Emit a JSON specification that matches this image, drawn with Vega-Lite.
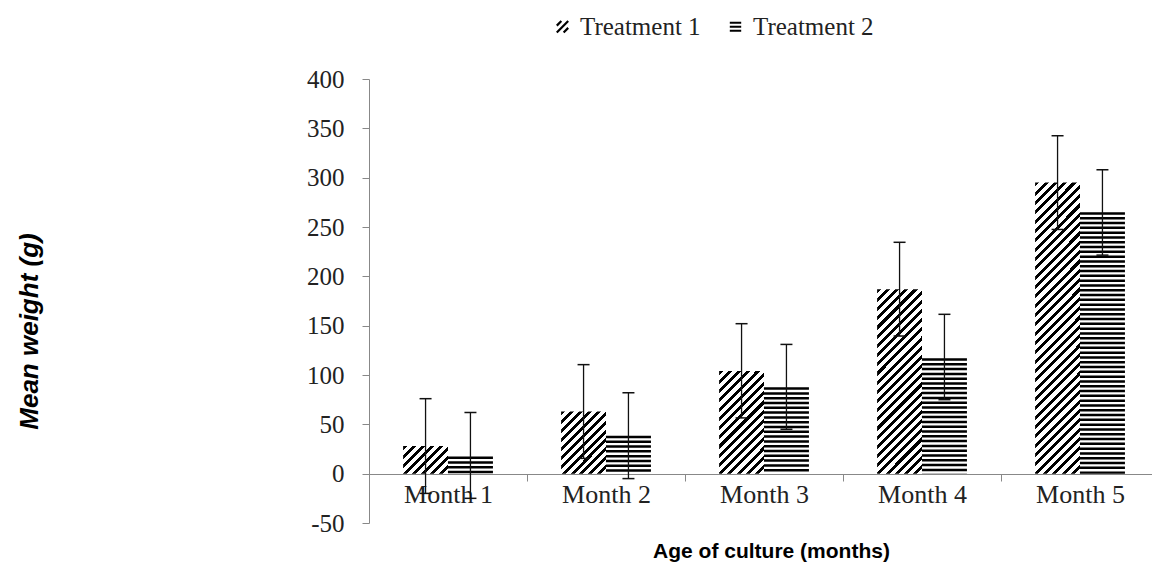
{
  "$schema": "https://vega.github.io/schema/vega-lite/v6.json",
  "autosize": "none",
  "width": 783,
  "height": 444,
  "padding": {"left": 369, "top": 79, "right": 0, "bottom": 43},
  "config": {"view": {"stroke": null}, "background": "white"},
  "data": {"values": [
    {"month": "Month 1", "treatment": "Treatment 1", "mean": 28, "lower": -20, "upper": 76},
    {"month": "Month 1", "treatment": "Treatment 2", "mean": 17.5, "lower": -25, "upper": 62},
    {"month": "Month 2", "treatment": "Treatment 1", "mean": 63, "lower": 15.5, "upper": 110.5},
    {"month": "Month 2", "treatment": "Treatment 2", "mean": 38.5, "lower": -5, "upper": 82},
    {"month": "Month 3", "treatment": "Treatment 1", "mean": 104, "lower": 56.5, "upper": 152},
    {"month": "Month 3", "treatment": "Treatment 2", "mean": 87.5, "lower": 45, "upper": 131},
    {"month": "Month 4", "treatment": "Treatment 1", "mean": 187, "lower": 139.5, "upper": 234.5},
    {"month": "Month 4", "treatment": "Treatment 2", "mean": 117, "lower": 75, "upper": 161.5},
    {"month": "Month 5", "treatment": "Treatment 1", "mean": 295, "lower": 247.5, "upper": 342.5},
    {"month": "Month 5", "treatment": "Treatment 2", "mean": 265, "lower": 221.5, "upper": 308}
  ]},
  "encoding": {
    "x": {"field": "month", "type": "nominal",
      "scale": {"type": "band", "paddingInner": 0, "paddingOuter": 0, "range": [0, 790]},
      "axis": {"orient": "bottom", "offset": -49, "tickBand": "extent", "tickSize": 7, "labelPadding": 0, "labelAngle": 0,
        "domainColor": "#888888", "tickColor": "#888888", "labelFont": "Liberation Serif", "labelFontSize": 26, "labelColor": "#222222",
        "title": "Age of culture (months)", "titleFont": "Liberation Sans", "titleFontSize": 21, "titleFontWeight": "bold", "titleColor": "#000000",
        "titleX": 402, "titleY": 83, "titleBaseline": "alphabetic", "titleAlign": "center"}},
    "xOffset": {"field": "treatment", "type": "nominal",
      "scale": {"domain": ["Treatment 1", "Treatment 2"], "paddingInner": 0, "paddingOuter": 0.76}}
  },
  "layer": [
    {
      "transform": [{"filter": "datum.month == 'Month 1' && datum.treatment == 'Treatment 1'"}],
      "mark": {"type": "bar", "fill": {"gradient": "linear", "x1": 0, "y1": 0, "x2": 1.172, "y2": 0.720, "stops": [
        {"offset": 0, "color": "#000"}, {"offset": 0.05625, "color": "#000"}, {"offset": 0.05625, "color": "#fff"}, {"offset": 0.125, "color": "#fff"},
        {"offset": 0.125, "color": "#000"}, {"offset": 0.18125, "color": "#000"}, {"offset": 0.18125, "color": "#fff"}, {"offset": 0.25, "color": "#fff"},
        {"offset": 0.25, "color": "#000"}, {"offset": 0.30625, "color": "#000"}, {"offset": 0.30625, "color": "#fff"}, {"offset": 0.375, "color": "#fff"},
        {"offset": 0.375, "color": "#000"}, {"offset": 0.43125, "color": "#000"}, {"offset": 0.43125, "color": "#fff"}, {"offset": 0.5, "color": "#fff"},
        {"offset": 0.5, "color": "#000"}, {"offset": 0.55625, "color": "#000"}, {"offset": 0.55625, "color": "#fff"}, {"offset": 0.625, "color": "#fff"},
        {"offset": 0.625, "color": "#000"}, {"offset": 0.68125, "color": "#000"}, {"offset": 0.68125, "color": "#fff"}, {"offset": 0.75, "color": "#fff"},
        {"offset": 0.75, "color": "#000"}, {"offset": 0.80625, "color": "#000"}, {"offset": 0.80625, "color": "#fff"}, {"offset": 0.875, "color": "#fff"},
        {"offset": 0.875, "color": "#000"}, {"offset": 0.93125, "color": "#000"}, {"offset": 0.93125, "color": "#fff"}, {"offset": 1, "color": "#fff"}
      ]}},
      "encoding": {"y": {"field": "mean", "type": "quantitative",
        "scale": {"domain": [-50, 400], "nice": false, "zero": false},
        "axis": {"orient": "left", "values": [-50, 0, 50, 100, 150, 200, 250, 300, 350, 400], "grid": false, "tickSize": 7, "labelPadding": 18,
          "labelExpr": "replace(datum.label, '\u2212', '-')",
          "domainColor": "#888888", "tickColor": "#888888", "labelFont": "Liberation Serif", "labelFontSize": 25, "labelColor": "#222222",
          "title": "Mean weight (g)", "titleFont": "Liberation Sans", "titleFontSize": 26, "titleFontWeight": "bold", "titleFontStyle": "italic", "titleColor": "#000000",
          "titleAngle": -90, "titleX": -340, "titleY": 252, "titleBaseline": "middle", "titleAlign": "center"}}}
    },
    {
      "transform": [{"filter": "datum.month == 'Month 2' && datum.treatment == 'Treatment 1'"}],
      "mark": {"type": "bar", "fill": {"gradient": "linear", "x1": 0, "y1": 0, "x2": 0.8185, "y2": 1.1313, "stops": [
        {"offset": 0, "color": "#000"}, {"offset": 0.0375, "color": "#000"}, {"offset": 0.0375, "color": "#fff"}, {"offset": 0.08333, "color": "#fff"},
        {"offset": 0.08333, "color": "#000"}, {"offset": 0.12083, "color": "#000"}, {"offset": 0.12083, "color": "#fff"}, {"offset": 0.16667, "color": "#fff"},
        {"offset": 0.16667, "color": "#000"}, {"offset": 0.20417, "color": "#000"}, {"offset": 0.20417, "color": "#fff"}, {"offset": 0.25, "color": "#fff"},
        {"offset": 0.25, "color": "#000"}, {"offset": 0.2875, "color": "#000"}, {"offset": 0.2875, "color": "#fff"}, {"offset": 0.33333, "color": "#fff"},
        {"offset": 0.33333, "color": "#000"}, {"offset": 0.37083, "color": "#000"}, {"offset": 0.37083, "color": "#fff"}, {"offset": 0.41667, "color": "#fff"},
        {"offset": 0.41667, "color": "#000"}, {"offset": 0.45417, "color": "#000"}, {"offset": 0.45417, "color": "#fff"}, {"offset": 0.5, "color": "#fff"},
        {"offset": 0.5, "color": "#000"}, {"offset": 0.5375, "color": "#000"}, {"offset": 0.5375, "color": "#fff"}, {"offset": 0.58333, "color": "#fff"},
        {"offset": 0.58333, "color": "#000"}, {"offset": 0.62083, "color": "#000"}, {"offset": 0.62083, "color": "#fff"}, {"offset": 0.66667, "color": "#fff"},
        {"offset": 0.66667, "color": "#000"}, {"offset": 0.70417, "color": "#000"}, {"offset": 0.70417, "color": "#fff"}, {"offset": 0.75, "color": "#fff"},
        {"offset": 0.75, "color": "#000"}, {"offset": 0.7875, "color": "#000"}, {"offset": 0.7875, "color": "#fff"}, {"offset": 0.83333, "color": "#fff"},
        {"offset": 0.83333, "color": "#000"}, {"offset": 0.87083, "color": "#000"}, {"offset": 0.87083, "color": "#fff"}, {"offset": 0.91667, "color": "#fff"},
        {"offset": 0.91667, "color": "#000"}, {"offset": 0.95417, "color": "#000"}, {"offset": 0.95417, "color": "#fff"}, {"offset": 1, "color": "#fff"}
      ]}},
      "encoding": {"y": {"field": "mean", "type": "quantitative", "title": "Mean weight (g)"}}
    },
    {
      "transform": [{"filter": "datum.month == 'Month 3' && datum.treatment == 'Treatment 1'"}],
      "mark": {"type": "bar", "fill": {"gradient": "linear", "x1": 0, "y1": 0, "x2": 0.5287, "y2": 1.2065, "stops": [
        {"offset": 0, "color": "#000"}, {"offset": 0.028125, "color": "#000"}, {"offset": 0.028125, "color": "#fff"}, {"offset": 0.0625, "color": "#fff"},
        {"offset": 0.0625, "color": "#000"}, {"offset": 0.090625, "color": "#000"}, {"offset": 0.090625, "color": "#fff"}, {"offset": 0.125, "color": "#fff"},
        {"offset": 0.125, "color": "#000"}, {"offset": 0.153125, "color": "#000"}, {"offset": 0.153125, "color": "#fff"}, {"offset": 0.1875, "color": "#fff"},
        {"offset": 0.1875, "color": "#000"}, {"offset": 0.215625, "color": "#000"}, {"offset": 0.215625, "color": "#fff"}, {"offset": 0.25, "color": "#fff"},
        {"offset": 0.25, "color": "#000"}, {"offset": 0.278125, "color": "#000"}, {"offset": 0.278125, "color": "#fff"}, {"offset": 0.3125, "color": "#fff"},
        {"offset": 0.3125, "color": "#000"}, {"offset": 0.340625, "color": "#000"}, {"offset": 0.340625, "color": "#fff"}, {"offset": 0.375, "color": "#fff"},
        {"offset": 0.375, "color": "#000"}, {"offset": 0.403125, "color": "#000"}, {"offset": 0.403125, "color": "#fff"}, {"offset": 0.4375, "color": "#fff"},
        {"offset": 0.4375, "color": "#000"}, {"offset": 0.465625, "color": "#000"}, {"offset": 0.465625, "color": "#fff"}, {"offset": 0.5, "color": "#fff"},
        {"offset": 0.5, "color": "#000"}, {"offset": 0.528125, "color": "#000"}, {"offset": 0.528125, "color": "#fff"}, {"offset": 0.5625, "color": "#fff"},
        {"offset": 0.5625, "color": "#000"}, {"offset": 0.590625, "color": "#000"}, {"offset": 0.590625, "color": "#fff"}, {"offset": 0.625, "color": "#fff"},
        {"offset": 0.625, "color": "#000"}, {"offset": 0.653125, "color": "#000"}, {"offset": 0.653125, "color": "#fff"}, {"offset": 0.6875, "color": "#fff"},
        {"offset": 0.6875, "color": "#000"}, {"offset": 0.715625, "color": "#000"}, {"offset": 0.715625, "color": "#fff"}, {"offset": 0.75, "color": "#fff"},
        {"offset": 0.75, "color": "#000"}, {"offset": 0.778125, "color": "#000"}, {"offset": 0.778125, "color": "#fff"}, {"offset": 0.8125, "color": "#fff"},
        {"offset": 0.8125, "color": "#000"}, {"offset": 0.840625, "color": "#000"}, {"offset": 0.840625, "color": "#fff"}, {"offset": 0.875, "color": "#fff"},
        {"offset": 0.875, "color": "#000"}, {"offset": 0.903125, "color": "#000"}, {"offset": 0.903125, "color": "#fff"}, {"offset": 0.9375, "color": "#fff"},
        {"offset": 0.9375, "color": "#000"}, {"offset": 0.965625, "color": "#000"}, {"offset": 0.965625, "color": "#fff"}, {"offset": 1, "color": "#fff"}
      ]}},
      "encoding": {"y": {"field": "mean", "type": "quantitative", "title": "Mean weight (g)"}}
    },
    {
      "transform": [{"filter": "datum.month == 'Month 4' && datum.treatment == 'Treatment 1'"}],
      "mark": {"type": "bar", "fill": {"gradient": "linear", "x1": 0, "y1": 0, "x2": 0.2860, "y2": 1.1740, "stops": [
        {"offset": 0, "color": "#000"}, {"offset": 0.018, "color": "#000"}, {"offset": 0.018, "color": "#fff"}, {"offset": 0.04, "color": "#fff"},
        {"offset": 0.04, "color": "#000"}, {"offset": 0.058, "color": "#000"}, {"offset": 0.058, "color": "#fff"}, {"offset": 0.08, "color": "#fff"},
        {"offset": 0.08, "color": "#000"}, {"offset": 0.098, "color": "#000"}, {"offset": 0.098, "color": "#fff"}, {"offset": 0.12, "color": "#fff"},
        {"offset": 0.12, "color": "#000"}, {"offset": 0.138, "color": "#000"}, {"offset": 0.138, "color": "#fff"}, {"offset": 0.16, "color": "#fff"},
        {"offset": 0.16, "color": "#000"}, {"offset": 0.178, "color": "#000"}, {"offset": 0.178, "color": "#fff"}, {"offset": 0.2, "color": "#fff"},
        {"offset": 0.2, "color": "#000"}, {"offset": 0.218, "color": "#000"}, {"offset": 0.218, "color": "#fff"}, {"offset": 0.24, "color": "#fff"},
        {"offset": 0.24, "color": "#000"}, {"offset": 0.258, "color": "#000"}, {"offset": 0.258, "color": "#fff"}, {"offset": 0.28, "color": "#fff"},
        {"offset": 0.28, "color": "#000"}, {"offset": 0.298, "color": "#000"}, {"offset": 0.298, "color": "#fff"}, {"offset": 0.32, "color": "#fff"},
        {"offset": 0.32, "color": "#000"}, {"offset": 0.338, "color": "#000"}, {"offset": 0.338, "color": "#fff"}, {"offset": 0.36, "color": "#fff"},
        {"offset": 0.36, "color": "#000"}, {"offset": 0.378, "color": "#000"}, {"offset": 0.378, "color": "#fff"}, {"offset": 0.4, "color": "#fff"},
        {"offset": 0.4, "color": "#000"}, {"offset": 0.418, "color": "#000"}, {"offset": 0.418, "color": "#fff"}, {"offset": 0.44, "color": "#fff"},
        {"offset": 0.44, "color": "#000"}, {"offset": 0.458, "color": "#000"}, {"offset": 0.458, "color": "#fff"}, {"offset": 0.48, "color": "#fff"},
        {"offset": 0.48, "color": "#000"}, {"offset": 0.498, "color": "#000"}, {"offset": 0.498, "color": "#fff"}, {"offset": 0.52, "color": "#fff"},
        {"offset": 0.52, "color": "#000"}, {"offset": 0.538, "color": "#000"}, {"offset": 0.538, "color": "#fff"}, {"offset": 0.56, "color": "#fff"},
        {"offset": 0.56, "color": "#000"}, {"offset": 0.578, "color": "#000"}, {"offset": 0.578, "color": "#fff"}, {"offset": 0.6, "color": "#fff"},
        {"offset": 0.6, "color": "#000"}, {"offset": 0.618, "color": "#000"}, {"offset": 0.618, "color": "#fff"}, {"offset": 0.64, "color": "#fff"},
        {"offset": 0.64, "color": "#000"}, {"offset": 0.658, "color": "#000"}, {"offset": 0.658, "color": "#fff"}, {"offset": 0.68, "color": "#fff"},
        {"offset": 0.68, "color": "#000"}, {"offset": 0.698, "color": "#000"}, {"offset": 0.698, "color": "#fff"}, {"offset": 0.72, "color": "#fff"},
        {"offset": 0.72, "color": "#000"}, {"offset": 0.738, "color": "#000"}, {"offset": 0.738, "color": "#fff"}, {"offset": 0.76, "color": "#fff"},
        {"offset": 0.76, "color": "#000"}, {"offset": 0.778, "color": "#000"}, {"offset": 0.778, "color": "#fff"}, {"offset": 0.8, "color": "#fff"},
        {"offset": 0.8, "color": "#000"}, {"offset": 0.818, "color": "#000"}, {"offset": 0.818, "color": "#fff"}, {"offset": 0.84, "color": "#fff"},
        {"offset": 0.84, "color": "#000"}, {"offset": 0.858, "color": "#000"}, {"offset": 0.858, "color": "#fff"}, {"offset": 0.88, "color": "#fff"},
        {"offset": 0.88, "color": "#000"}, {"offset": 0.898, "color": "#000"}, {"offset": 0.898, "color": "#fff"}, {"offset": 0.92, "color": "#fff"},
        {"offset": 0.92, "color": "#000"}, {"offset": 0.938, "color": "#000"}, {"offset": 0.938, "color": "#fff"}, {"offset": 0.96, "color": "#fff"},
        {"offset": 0.96, "color": "#000"}, {"offset": 0.978, "color": "#000"}, {"offset": 0.978, "color": "#fff"}, {"offset": 1, "color": "#fff"}
      ]}},
      "encoding": {"y": {"field": "mean", "type": "quantitative", "title": "Mean weight (g)"}}
    },
    {
      "transform": [{"filter": "datum.month == 'Month 5' && datum.treatment == 'Treatment 1'"}],
      "mark": {"type": "bar", "fill": {"gradient": "linear", "x1": 0, "y1": 0, "x2": 0.17419, "y2": 1.1276, "stops": [
        {"offset": 0, "color": "#000"}, {"offset": 0.0125, "color": "#000"}, {"offset": 0.0125, "color": "#fff"}, {"offset": 0.02778, "color": "#fff"},
        {"offset": 0.02778, "color": "#000"}, {"offset": 0.04028, "color": "#000"}, {"offset": 0.04028, "color": "#fff"}, {"offset": 0.05556, "color": "#fff"},
        {"offset": 0.05556, "color": "#000"}, {"offset": 0.06806, "color": "#000"}, {"offset": 0.06806, "color": "#fff"}, {"offset": 0.08333, "color": "#fff"},
        {"offset": 0.08333, "color": "#000"}, {"offset": 0.09583, "color": "#000"}, {"offset": 0.09583, "color": "#fff"}, {"offset": 0.11111, "color": "#fff"},
        {"offset": 0.11111, "color": "#000"}, {"offset": 0.12361, "color": "#000"}, {"offset": 0.12361, "color": "#fff"}, {"offset": 0.13889, "color": "#fff"},
        {"offset": 0.13889, "color": "#000"}, {"offset": 0.15139, "color": "#000"}, {"offset": 0.15139, "color": "#fff"}, {"offset": 0.16667, "color": "#fff"},
        {"offset": 0.16667, "color": "#000"}, {"offset": 0.17917, "color": "#000"}, {"offset": 0.17917, "color": "#fff"}, {"offset": 0.19444, "color": "#fff"},
        {"offset": 0.19444, "color": "#000"}, {"offset": 0.20694, "color": "#000"}, {"offset": 0.20694, "color": "#fff"}, {"offset": 0.22222, "color": "#fff"},
        {"offset": 0.22222, "color": "#000"}, {"offset": 0.23472, "color": "#000"}, {"offset": 0.23472, "color": "#fff"}, {"offset": 0.25, "color": "#fff"},
        {"offset": 0.25, "color": "#000"}, {"offset": 0.2625, "color": "#000"}, {"offset": 0.2625, "color": "#fff"}, {"offset": 0.27778, "color": "#fff"},
        {"offset": 0.27778, "color": "#000"}, {"offset": 0.29028, "color": "#000"}, {"offset": 0.29028, "color": "#fff"}, {"offset": 0.30556, "color": "#fff"},
        {"offset": 0.30556, "color": "#000"}, {"offset": 0.31806, "color": "#000"}, {"offset": 0.31806, "color": "#fff"}, {"offset": 0.33333, "color": "#fff"},
        {"offset": 0.33333, "color": "#000"}, {"offset": 0.34583, "color": "#000"}, {"offset": 0.34583, "color": "#fff"}, {"offset": 0.36111, "color": "#fff"},
        {"offset": 0.36111, "color": "#000"}, {"offset": 0.37361, "color": "#000"}, {"offset": 0.37361, "color": "#fff"}, {"offset": 0.38889, "color": "#fff"},
        {"offset": 0.38889, "color": "#000"}, {"offset": 0.40139, "color": "#000"}, {"offset": 0.40139, "color": "#fff"}, {"offset": 0.41667, "color": "#fff"},
        {"offset": 0.41667, "color": "#000"}, {"offset": 0.42917, "color": "#000"}, {"offset": 0.42917, "color": "#fff"}, {"offset": 0.44444, "color": "#fff"},
        {"offset": 0.44444, "color": "#000"}, {"offset": 0.45694, "color": "#000"}, {"offset": 0.45694, "color": "#fff"}, {"offset": 0.47222, "color": "#fff"},
        {"offset": 0.47222, "color": "#000"}, {"offset": 0.48472, "color": "#000"}, {"offset": 0.48472, "color": "#fff"}, {"offset": 0.5, "color": "#fff"},
        {"offset": 0.5, "color": "#000"}, {"offset": 0.5125, "color": "#000"}, {"offset": 0.5125, "color": "#fff"}, {"offset": 0.52778, "color": "#fff"},
        {"offset": 0.52778, "color": "#000"}, {"offset": 0.54028, "color": "#000"}, {"offset": 0.54028, "color": "#fff"}, {"offset": 0.55556, "color": "#fff"},
        {"offset": 0.55556, "color": "#000"}, {"offset": 0.56806, "color": "#000"}, {"offset": 0.56806, "color": "#fff"}, {"offset": 0.58333, "color": "#fff"},
        {"offset": 0.58333, "color": "#000"}, {"offset": 0.59583, "color": "#000"}, {"offset": 0.59583, "color": "#fff"}, {"offset": 0.61111, "color": "#fff"},
        {"offset": 0.61111, "color": "#000"}, {"offset": 0.62361, "color": "#000"}, {"offset": 0.62361, "color": "#fff"}, {"offset": 0.63889, "color": "#fff"},
        {"offset": 0.63889, "color": "#000"}, {"offset": 0.65139, "color": "#000"}, {"offset": 0.65139, "color": "#fff"}, {"offset": 0.66667, "color": "#fff"},
        {"offset": 0.66667, "color": "#000"}, {"offset": 0.67917, "color": "#000"}, {"offset": 0.67917, "color": "#fff"}, {"offset": 0.69444, "color": "#fff"},
        {"offset": 0.69444, "color": "#000"}, {"offset": 0.70694, "color": "#000"}, {"offset": 0.70694, "color": "#fff"}, {"offset": 0.72222, "color": "#fff"},
        {"offset": 0.72222, "color": "#000"}, {"offset": 0.73472, "color": "#000"}, {"offset": 0.73472, "color": "#fff"}, {"offset": 0.75, "color": "#fff"},
        {"offset": 0.75, "color": "#000"}, {"offset": 0.7625, "color": "#000"}, {"offset": 0.7625, "color": "#fff"}, {"offset": 0.77778, "color": "#fff"},
        {"offset": 0.77778, "color": "#000"}, {"offset": 0.79028, "color": "#000"}, {"offset": 0.79028, "color": "#fff"}, {"offset": 0.80556, "color": "#fff"},
        {"offset": 0.80556, "color": "#000"}, {"offset": 0.81806, "color": "#000"}, {"offset": 0.81806, "color": "#fff"}, {"offset": 0.83333, "color": "#fff"},
        {"offset": 0.83333, "color": "#000"}, {"offset": 0.84583, "color": "#000"}, {"offset": 0.84583, "color": "#fff"}, {"offset": 0.86111, "color": "#fff"},
        {"offset": 0.86111, "color": "#000"}, {"offset": 0.87361, "color": "#000"}, {"offset": 0.87361, "color": "#fff"}, {"offset": 0.88889, "color": "#fff"},
        {"offset": 0.88889, "color": "#000"}, {"offset": 0.90139, "color": "#000"}, {"offset": 0.90139, "color": "#fff"}, {"offset": 0.91667, "color": "#fff"},
        {"offset": 0.91667, "color": "#000"}, {"offset": 0.92917, "color": "#000"}, {"offset": 0.92917, "color": "#fff"}, {"offset": 0.94444, "color": "#fff"},
        {"offset": 0.94444, "color": "#000"}, {"offset": 0.95694, "color": "#000"}, {"offset": 0.95694, "color": "#fff"}, {"offset": 0.97222, "color": "#fff"},
        {"offset": 0.97222, "color": "#000"}, {"offset": 0.98472, "color": "#000"}, {"offset": 0.98472, "color": "#fff"}, {"offset": 1, "color": "#fff"}
      ]}},
      "encoding": {"y": {"field": "mean", "type": "quantitative", "title": "Mean weight (g)"}}
    },
    {
      "transform": [{"filter": "datum.treatment == 'Treatment 2'"}],
      "mark": {"type": "rule", "stroke": "#000", "strokeWidth": 45, "strokeDash": [2.5, 2.3], "strokeCap": "butt"},
      "encoding": {"y": {"field": "mean", "type": "quantitative", "title": "Mean weight (g)"}, "y2": {"datum": 0}}
    },
    {
      "mark": {"type": "rule", "stroke": "#111", "strokeWidth": 1.3},
      "encoding": {"y": {"field": "lower", "type": "quantitative", "title": "Mean weight (g)"}, "y2": {"field": "upper"}}
    },
    {
      "mark": {"type": "tick", "orient": "horizontal", "color": "#111", "size": 12, "thickness": 1.5, "opacity": 1},
      "encoding": {"y": {"field": "lower", "type": "quantitative", "title": "Mean weight (g)"}}
    },
    {
      "mark": {"type": "tick", "orient": "horizontal", "color": "#111", "size": 12, "thickness": 1.5, "opacity": 1},
      "encoding": {"y": {"field": "upper", "type": "quantitative", "title": "Mean weight (g)"}}
    },
    {
      "mark": {"type": "point", "filled": false, "stroke": "#000", "strokeWidth": 2, "opacity": 0},
      "encoding": {
        "y": {"field": "mean", "type": "quantitative", "title": "Mean weight (g)"},
        "shape": {"field": "treatment", "type": "nominal",
          "scale": {"domain": ["Treatment 1", "Treatment 2"], "range": ["M-1,1L1,-1M-1,-0.2L-0.2,-1M0.2,1L1,0.2", "M-1,-0.7L1,-0.7M-1,0L1,0M-1,0.7L1,0.7"]},
          "legend": {"orient": "none", "legendX": 181, "legendY": -65, "direction": "horizontal", "title": null,
            "symbolSize": 130, "symbolOpacity": 1, "symbolStrokeColor": "#000", "symbolStrokeWidth": 2.2, "symbolFillColor": "transparent",
            "labelFont": "Liberation Serif", "labelFontSize": 25, "labelColor": "#222222", "labelOffset": 5, "columnPadding": 22, "padding": 0}}
      }
    }
  ]
}
